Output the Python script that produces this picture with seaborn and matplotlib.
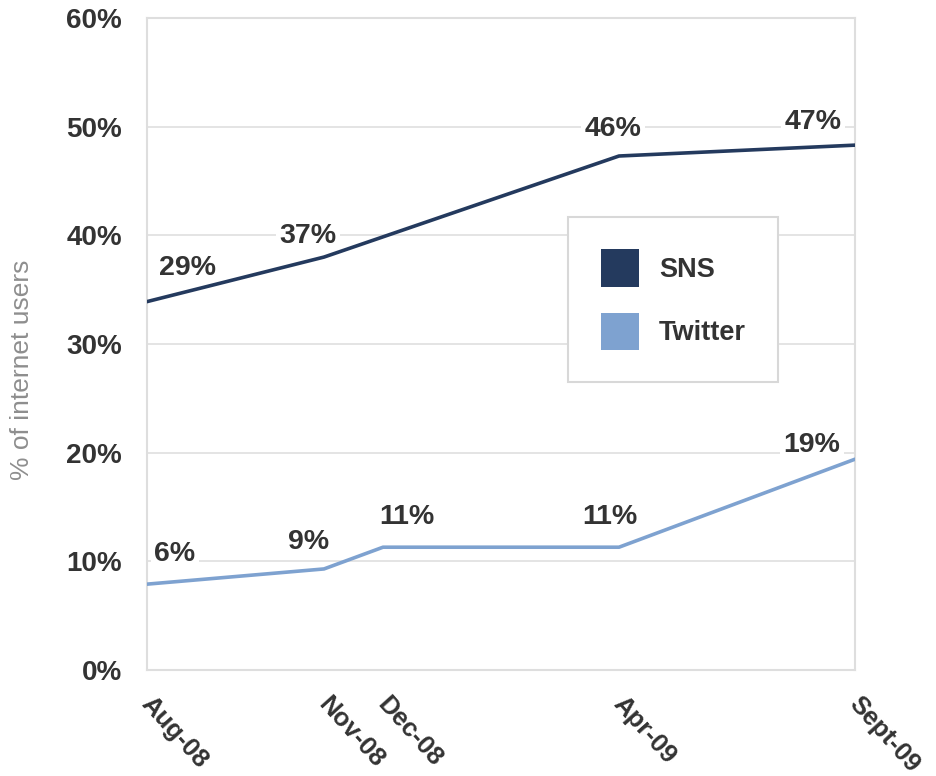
import pandas as pd
import seaborn as sns
import matplotlib.pyplot as plt
from matplotlib.patches import Patch
from matplotlib.transforms import ScaledTranslation

# ---------------------------------------------------------
# DATA
# ---------------------------------------------------------
months = ['Aug-08', 'Nov-08', 'Dec-08', 'Apr-09', 'Sept-09']
month_pos = [0, 3, 4, 8, 12]          # months since Aug-08, as spaced on the axis
sns_values = [33.9, 38.0, None, 47.3, 48.3]
twitter_values = [7.9, 9.3, 11.3, 11.3, 19.4]
sns_labels = ['29%', '37%', None, '46%', '47%']
twitter_labels = ['6%', '9%', '11%', '11%', '19%']
series = ['SNS', 'Twitter']
colors = {'SNS': '#243a5e', 'Twitter': '#7ea2d0'}

# label offsets in pixels from each point (styling only)
sns_offsets = [(40, 34), (-16, 21), (0, 0), (-6, 27), (-42, 23)]
twitter_offsets = [(28, 30), (-15, 27), (24, 30), (-9, 30), (-43, 14)]

rows = []
for name, vals in zip(series, [sns_values, twitter_values]):
    for m, x, v in zip(months, month_pos, vals):
        if v is not None:
            rows.append({'Month': m, 'x': x, 'Share': v, 'Series': name})
df = pd.DataFrame(rows)

# ---------------------------------------------------------
# PLOT
# ---------------------------------------------------------
sns.set_theme(style="white")
plt.rcParams['font.family'] = ['Liberation Sans', 'DejaVu Sans']
text_color = '#333333'
grid_color = '#e4e4e4'

fig = plt.figure(figsize=(9.36, 7.76), dpi=100)
ax = fig.add_axes([147 / 936, 1 - 670 / 776, 708 / 936, 652 / 776])

for y in range(10, 60, 10):
    ax.axhline(y, color=grid_color, lw=1.4, zorder=0)

sns.lineplot(data=df, x='x', y='Share', hue='Series', palette=colors, hue_order=series,
             linewidth=2.6, legend=False, ax=ax, zorder=3)

bbox = dict(boxstyle='square,pad=0.12', fc='white', ec='none')
for vals, labels, offs in [(sns_values, sns_labels, sns_offsets),
                           (twitter_values, twitter_labels, twitter_offsets)]:
    for x, v, lab, (dx, dy) in zip(month_pos, vals, labels, offs):
        if lab is None:
            continue
        ax.annotate(lab, (x, v), xytext=(dx, dy), textcoords='offset pixels',
                    ha='center', va='center', fontsize=20.5, fontweight='bold',
                    color=text_color, bbox=bbox, zorder=2)

ax.set_xlim(0, 12)
ax.set_ylim(0, 60)
ax.set_yticks(range(0, 61, 10))
ax.set_yticklabels([f'{t}%' for t in range(0, 61, 10)])
ax.set_xticks(month_pos)
ax.set_xticklabels(months, rotation=-48, ha='left', va='top', rotation_mode='anchor')
ax.tick_params(axis='y', length=0, pad=18, labelsize=20, labelcolor=text_color)
ax.tick_params(axis='x', direction='in', length=12, width=1.2, color='#cfcfcf',
               pad=16, labelsize=18.5, labelcolor=text_color)
shift = ScaledTranslation(7 / 100, 0, fig.dpi_scale_trans)
for lab in ax.get_xticklabels():
    lab.set_fontweight('bold')
    lab.set_transform(lab.get_transform() + shift)
for lab in ax.get_yticklabels():
    lab.set_fontweight('bold')

ax.set_xlabel('')
ax.set_ylabel('% of internet users', fontsize=19, color='#8e8e8e')
ax.yaxis.set_label_coords(-0.16, 0.46)

for sp in ax.spines.values():
    sp.set_visible(True)
    sp.set_color('#dedede')
    sp.set_linewidth(1.5)

handles = [Patch(facecolor=colors[s], edgecolor='none') for s in series]
leg = ax.legend(handles, series, loc='upper left', bbox_to_anchor=(0.595, 0.695),
                borderaxespad=0, frameon=True, fancybox=False, framealpha=1,
                edgecolor='#d8d8d8', borderpad=1.2, labelspacing=0.95,
                handlelength=1.4, handleheight=1.75, handletextpad=0.75,
                prop={'size': 19.5, 'weight': 'bold'})
for t in leg.get_texts():
    t.set_color(text_color)
leg.get_frame().set_linewidth(1.5)
leg.set_zorder(5)

fig.savefig('out.png', dpi=100)
plt.close(fig)
